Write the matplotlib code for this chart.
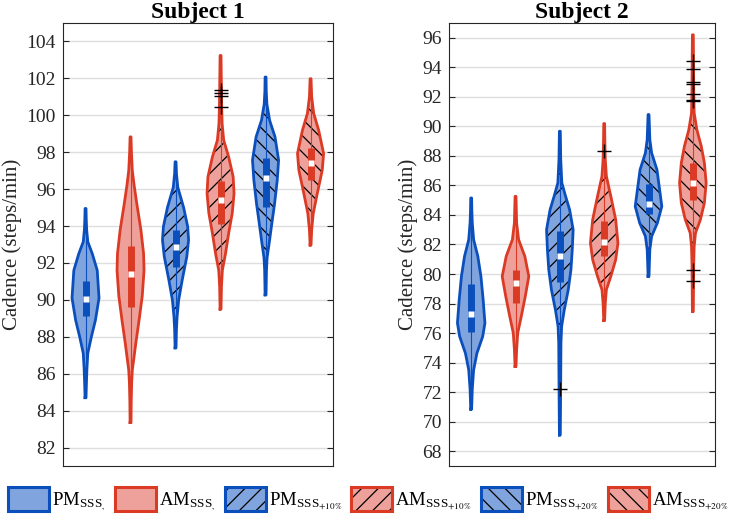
import numpy as np
import matplotlib
matplotlib.use("Agg")
from matplotlib import pyplot as plt
from matplotlib.patches import Patch

plt.rcParams['font.family'] = ['Liberation Serif', 'DejaVu Serif']
plt.rcParams['mathtext.fontset'] = 'stix'
plt.rcParams['hatch.linewidth'] = 0.9

# colours (PM blue, AM red)
blue_edge, blue_fill = '#0b4fbd', '#80a4dd'
red_edge, red_fill = '#db3a25', '#eea19a'
edges = [blue_edge, red_edge] * 3
fills = [blue_fill, red_fill] * 3
hatches = ['', '', '//', '//', '\\\\', '\\\\']

labels = [r'PM$_{\mathregular{SSS}_{,}}$', r'AM$_{\mathregular{SSS}_{,}}$',
          r'PM$_{\mathregular{SSS}_{+10\%}}$', r'AM$_{\mathregular{SSS}_{+10\%}}$',
          r'PM$_{\mathregular{SSS}_{+20\%}}$', r'AM$_{\mathregular{SSS}_{+20\%}}$']

# ---- Subject 1 : violin outlines (cadence level, half width) ----
s1_y = [
    [84.7, 85.5, 86.2, 87.1, 88.0, 88.9, 90.1, 91.6, 92.5, 93.15, 93.8, 94.4, 94.95],
    [83.35, 84.5, 85.5, 86.2, 87.7, 88.9, 90.2, 91.6, 92.5, 93.8, 95.2, 96.2, 97.0, 98.0, 98.83],
    [87.4, 88.4, 89.1, 90.0, 91.1, 92.34, 93.24, 93.96, 95.0, 96.1, 96.85, 97.48],
    [89.5, 90.7, 91.6, 92.5, 93.6, 94.7, 95.77, 96.67, 97.75, 98.65, 99.55, 100.5, 102.25, 103.24],
    [90.27, 91.6, 92.3, 93.06, 94.15, 95.2, 96.49, 97.57, 98.83, 99.73, 100.6, 101.3, 102.07],
    [92.97, 93.8, 94.68, 95.77, 97.03, 97.93, 99.19, 100.1, 100.99, 101.98],
]
s1_w = [
    [0.01, 0.02, 0.03, 0.05, 0.13, 0.22, 0.30, 0.26, 0.15, 0.05, 0.025, 0.015, 0.01],
    [0.01, 0.015, 0.025, 0.04, 0.12, 0.19, 0.26, 0.30, 0.29, 0.23, 0.14, 0.08, 0.04, 0.02, 0.01],
    [0.01, 0.02, 0.035, 0.07, 0.15, 0.25, 0.29, 0.27, 0.18, 0.05, 0.02, 0.01],
    [0.01, 0.02, 0.04, 0.11, 0.18, 0.26, 0.30, 0.28, 0.18, 0.07, 0.035, 0.025, 0.015, 0.01],
    [0.01, 0.02, 0.035, 0.08, 0.14, 0.20, 0.26, 0.29, 0.21, 0.09, 0.03, 0.015, 0.01],
    [0.01, 0.025, 0.06, 0.15, 0.26, 0.29, 0.18, 0.07, 0.025, 0.01],
]
s1_q1 = [89.1, 89.6, 91.8, 94.1, 95.04, 96.49]
s1_med = [90.05, 91.4, 92.85, 95.4, 96.6, 97.39]
s1_q3 = [91.0, 92.9, 93.78, 96.43, 97.7, 98.2]
s1_out = [[], [], [], [101.35, 101.2, 101.05, 100.45], [], []]

# ---- Subject 2 ----
s2_y = [
    [70.85, 72.2, 73.5, 74.64, 75.77, 76.68, 78.26, 79.84, 81.2, 82.33, 83.46, 84.3, 85.15],
    [73.74, 74.87, 76.0, 77.13, 78.48, 79.84, 81.2, 82.33, 83.46, 85.26],
    [69.1, 71.0, 73.06, 75.32, 76.45, 77.58, 78.94, 80.29, 81.65, 83.0, 84.36, 85.26, 86.17, 87.75, 89.67],
    [76.85, 78.03, 78.94, 79.84, 80.97, 82.1, 83.68, 85.26, 86.62, 87.75, 89.0, 90.19],
    [79.84, 80.8, 81.65, 82.55, 83.46, 84.58, 85.72, 87.07, 88.2, 89.1, 90.8],
    [77.46, 79.0, 80.75, 81.87, 82.78, 83.68, 84.81, 86.17, 87.53, 88.65, 89.78, 90.9, 92.5, 94.5, 96.2],
]
s2_w = [
    [0.01, 0.025, 0.055, 0.13, 0.26, 0.31, 0.27, 0.22, 0.15, 0.055, 0.025, 0.015, 0.01],
    [0.01, 0.025, 0.05, 0.13, 0.22, 0.30, 0.21, 0.07, 0.025, 0.01],
    [0.01, 0.015, 0.02, 0.025, 0.04, 0.10, 0.19, 0.25, 0.28, 0.30, 0.22, 0.13, 0.045, 0.02, 0.01],
    [0.01, 0.025, 0.05, 0.15, 0.26, 0.31, 0.26, 0.15, 0.05, 0.025, 0.015, 0.01],
    [0.01, 0.02, 0.03, 0.07, 0.20, 0.30, 0.25, 0.19, 0.07, 0.03, 0.01],
    [0.01, 0.015, 0.02, 0.03, 0.06, 0.17, 0.26, 0.30, 0.26, 0.19, 0.09, 0.03, 0.02, 0.015, 0.01],
]
s2_q1 = [76.1, 78.07, 79.43, 81.19, 84.07, 85.04]
s2_med = [77.28, 79.39, 81.24, 82.14, 84.77, 86.17]
s2_q3 = [79.32, 80.29, 82.94, 83.61, 86.1, 87.53]
s2_out = [[], [], [72.2], [88.36], [], [94.4, 93.9, 93.0, 92.9, 92.2, 91.8, 91.7, 80.3, 79.5]]


def draw_violins(ax, ys, ws, q1, med, q3, outs):
    for i in range(6):
        x = i + 1
        y = np.array(ys[i])
        w = np.array(ws[i])
        # fill
        ax.fill_betweenx(y, x - w, x + w, facecolor=fills[i], edgecolor='none', lw=0, zorder=2)
        if hatches[i]:
            ax.fill_betweenx(y, x - w, x + w, facecolor='none', edgecolor='black',
                             lw=0, hatch=hatches[i], zorder=3)
        # thin centre line
        ax.plot([x, x], [y[0], y[-1]], color=edges[i], lw=0.8, zorder=4)
        # outline
        px = np.concatenate([x - w, (x + w)[::-1], [x - w[0]]])
        py = np.concatenate([y, y[::-1], [y[0]]])
        ax.plot(px, py, color=edges[i], lw=2.0, solid_joinstyle='round', zorder=5)
        # box + median
        ax.plot([x, x], [q1[i], q3[i]], color=edges[i], lw=5, solid_capstyle='butt', zorder=6)
        ax.plot([x], [med[i]], marker='s', ms=3.8, mfc='white', mec='none', zorder=7)
        if outs[i]:
            ax.plot([x] * len(outs[i]), outs[i], ls='none', marker='+', ms=10,
                    mew=1.0, color='black', zorder=8)


fig = plt.figure(figsize=(7.32, 5.22), dpi=100)
ax1 = fig.add_axes([0.0861, 0.1073, 0.3689, 0.8487])
ax2 = fig.add_axes([0.6134, 0.1073, 0.3634, 0.8487])

draw_violins(ax1, s1_y, s1_w, s1_q1, s1_med, s1_q3, s1_out)
draw_violins(ax2, s2_y, s2_w, s2_q1, s2_med, s2_q3, s2_out)

for ax, title, lim, ticks in [(ax1, 'Subject 1', (81, 105), np.arange(82, 105, 2)),
                              (ax2, 'Subject 2', (67, 97), np.arange(68, 97, 2))]:
    ax.set_xlim(0.5, 6.5)
    ax.set_ylim(*lim)
    ax.set_yticks(ticks)
    ax.set_xticks([])
    ax.grid(axis='y', color='#dedede', lw=1.0, zorder=0)
    ax.set_axisbelow(True)
    ax.tick_params(axis='y', direction='in', length=4, width=0.8, labelsize=14,
                   colors='#262626', right=True, pad=5)
    for s in ax.spines.values():
        s.set_color('#262626')
        s.set_linewidth(0.8)
    ax.set_title(title, fontsize=17, fontweight='bold', pad=3)
    ax.set_ylabel('Cadence (steps/min)', fontsize=15, labelpad=3, color='#262626')

handles = []
for i in range(6):
    handles.append((Patch(facecolor=fills[i], edgecolor='black', lw=0, hatch=hatches[i]),
                    Patch(facecolor='none', edgecolor=edges[i], lw=2.2)))
fig.legend(handles, labels, loc='center left', bbox_to_anchor=(8 / 732, 0.042),
           ncol=6, frameon=False, fontsize=13.5, handlelength=2.2, handleheight=1.55,
           handletextpad=0.15, columnspacing=0.5, borderpad=0, borderaxespad=0)

fig.savefig('out.png', dpi=100)
